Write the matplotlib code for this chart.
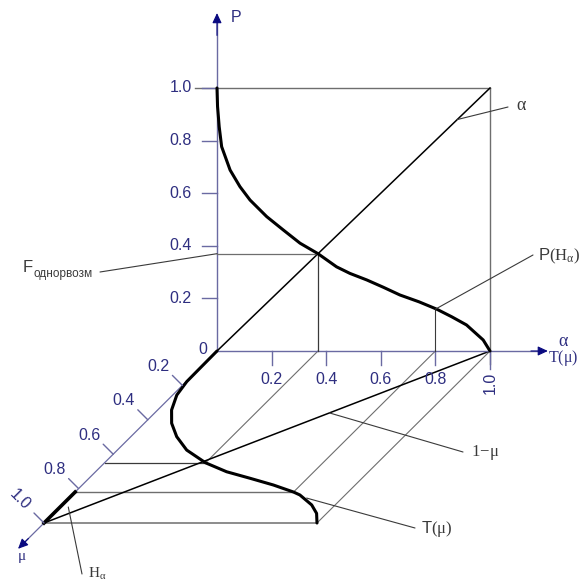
import numpy as np
import matplotlib.pyplot as plt
from matplotlib.transforms import Affine2D, offset_copy

plt.rcParams['font.family'] = ['Liberation Sans', 'DejaVu Sans']
# upright serif for the greek symbols and formula labels
plt.rcParams['mathtext.fontset'] = 'custom'
plt.rcParams['mathtext.rm'] = 'Liberation Serif'
plt.rcParams['mathtext.it'] = 'Liberation Serif'
plt.rcParams['mathtext.bf'] = 'Liberation Serif:bold'

# P(alpha) curve in the vertical (alpha, P) plane
p_alpha = [0.0, 0.002, 0.008, 0.017, 0.048, 0.084, 0.121, 0.182, 0.243, 0.304, 0.37,
           0.438, 0.487, 0.549, 0.610, 0.670, 0.740, 0.805, 0.860, 0.914, 0.975, 1.0]
p_value = [1.0, 0.93, 0.853, 0.777, 0.688, 0.625, 0.574, 0.511, 0.46, 0.41, 0.37,
           0.32, 0.295, 0.270, 0.242, 0.213, 0.187, 0.159, 0.13, 0.099, 0.042, 0.0]

# T(mu) curve in the floor (alpha, mu) plane
t_mu = [0.0, 0.1, 0.178, 0.256, 0.343, 0.42, 0.498, 0.576, 0.65, 0.702, 0.74,
        0.779, 0.82, 0.837, 0.895, 0.944, 1.0]
t_value = [0.0, 0.001, 0.002, 0.015, 0.051, 0.10, 0.168, 0.254, 0.37, 0.48, 0.59,
           0.70, 0.80, 0.834, 0.914, 0.963, 1.0]

ticks = [0.2, 0.4, 0.6, 0.8]
tick_labels = ['0.2', '0.4', '0.6', '0.8']

f_level = 0.37     # P(alpha) = alpha
mu_f = 0.65        # T(mu) at f_level
alpha_h = 0.8      # H_alpha level
mu_h = 0.82
p_h = 0.159

AXIS = '#6a6aa2'
NAVY = '#2e2e80'
HEAD = '#0a0a80'
GRAY = '#6e6e6e'
DARK = '#3a3a3a'

fig = plt.figure(figsize=(5.8, 5.85), dpi=100)
ax = fig.add_axes([0, 0, 1, 1])
ax.set_xlim(0, 580)
ax.set_ylim(585, 0)
ax.axis('off')

# oblique projection: wall plane (alpha, P) and floor plane (alpha, mu)
wall = Affine2D().scale(273, -263).translate(217, 351) + ax.transData
floor = Affine2D(np.array([[273., -173., 217.],
                           [0., 172., 351.],
                           [0., 0., 1.]])) + ax.transData


def arrow(tip, tail, trans):
    ax.annotate('', xy=tip, xytext=tail, xycoords=trans, textcoords=trans,
                arrowprops=dict(arrowstyle='-|>,head_length=0.6,head_width=0.28',
                                color=HEAD, lw=0.8, shrinkA=0, shrinkB=0))


def leader(start, trans, end):
    ax.annotate('', xy=start, xycoords=trans, xytext=end, textcoords='data',
                arrowprops=dict(arrowstyle='-', color=DARK, lw=0.8,
                                shrinkA=0, shrinkB=0))


# --- frame of the wall plane
ax.plot([-0.08, 1], [1, 1], color=GRAY, lw=1.0, transform=wall)
ax.plot([1, 1], [-0.05, 1], color=GRAY, lw=1.0, transform=wall)

# --- floor plane frame and construction lines
ax.plot([1, 1], [0, 1], color=GRAY, lw=0.8, transform=floor)
ax.plot([0, 1], [1, 1], color=GRAY, lw=1.1, transform=floor)
ax.plot([f_level, f_level], [0, mu_f], color=GRAY, lw=0.8, transform=floor)
ax.plot([alpha_h, alpha_h], [0, mu_h], color=GRAY, lw=0.8, transform=floor)
ax.plot([0, f_level], [mu_f, mu_f], color=DARK, lw=0.9, transform=floor)
ax.plot([0, alpha_h], [mu_h, mu_h], color=GRAY, lw=1.0, transform=floor)
ax.plot([1, 0], [0, 1], color='black', lw=1.1, transform=floor)

# --- axes
ax.plot([0, 0], [0, 1.25], color=AXIS, lw=1.0, transform=wall)
arrow((0, 1.285), (0, 1.2), wall)
ax.plot([0, 1.18], [0, 0], color=AXIS, lw=1.0, transform=wall)
arrow((1.212, 0), (1.15, 0), wall)
ax.plot([0, 0], [0, 1.12], color=AXIS, lw=0.9, transform=floor)
arrow((0, 1.15), (0, 1.09), floor)

# P axis ticks and labels
for v, lab in zip(ticks + [1.0], tick_labels + ['1.0']):
    ax.plot([-0.055, 0], [v, v], color=AXIS, lw=1.0, transform=wall)
    ax.text(0, v, lab, color=NAVY, fontsize=11.5, ha='right', va='center',
            transform=offset_copy(wall, fig, x=-25, y=0, units='dots'))
ax.text(0, 0, '0', color=NAVY, fontsize=11.5, ha='center', va='center',
        transform=offset_copy(wall, fig, x=-14, y=1, units='dots'))

# alpha axis ticks and labels
for v, lab in zip(ticks, tick_labels):
    ax.plot([v, v], [0, -0.053], color=AXIS, lw=1.0, transform=wall)
    ax.text(v, 0, lab, color=NAVY, fontsize=11.5, ha='center', va='center',
            transform=offset_copy(wall, fig, x=0, y=-29, units='dots'))
ax.plot([1, 1], [0, -0.07], color=AXIS, lw=1.0, transform=wall)
ax.text(1, 0, '1.0', color=NAVY, fontsize=11.5, ha='center', va='center', rotation=90,
        transform=offset_copy(wall, fig, x=0, y=-32, units='dots'))

# mu axis ticks (perpendicular to the axis) and labels
for v, lab in zip(ticks + [1.0], tick_labels + ['1.0']):
    ax.annotate('', xy=(0, v), xycoords=floor, xytext=(-10, 10),
                textcoords='offset pixels',
                arrowprops=dict(arrowstyle='-', color=AXIS, lw=1.0,
                                shrinkA=0, shrinkB=0))
    ax.text(0, v, lab, color=NAVY, fontsize=11.5, ha='center', va='center',
            rotation=-45 if v == 1.0 else 0,
            transform=offset_copy(floor, fig, x=-24, y=19 if v < 1 else 23, units='dots'))

# axis names
ax.text(236, 18, 'P', color=NAVY, fontsize=11.5, ha='center', va='center')
ax.text(563, 341, r'$\alpha$', color=NAVY, fontsize=13, ha='center', va='center')
ax.text(563, 358, r'$\mathrm{T}(\mu)$', color=NAVY, fontsize=11.5, ha='center', va='center')
ax.text(22, 558, r'$\mu$', color=NAVY, fontsize=11, ha='center', va='center')

# --- wall construction lines
ax.plot([0, 1], [0, 1], color='black', lw=1.1, transform=wall)
ax.plot([0, f_level], [f_level, f_level], color=GRAY, lw=0.9, transform=wall)
ax.plot([f_level, f_level], [0, f_level], color=DARK, lw=0.9, transform=wall)
ax.plot([alpha_h, alpha_h], [0, p_h], color=DARK, lw=0.8, transform=wall)

# --- curves
ax.plot(p_alpha, p_value, color='black', lw=2.2, solid_capstyle='round',
        solid_joinstyle='round', transform=wall)
ax.plot(t_value, t_mu, color='black', lw=2.2, solid_capstyle='round',
        solid_joinstyle='round', transform=floor)
ax.plot([0, 0], [mu_h, 1.0], color='black', lw=2.6, transform=floor)

# --- leaders and labels
leader((0.88, 0.88), wall, (508, 107))
ax.text(516, 106, r'$\alpha$', color=DARK, fontsize=13, ha='left', va='center')

leader((0, f_level), wall, (100, 272))
ax.text(23, 267, 'F', color=DARK, fontsize=12, ha='left', va='center')
ax.text(34, 274, 'однорвозм', color=DARK, fontsize=8.5, ha='left', va='center')

leader((alpha_h, p_h), wall, (533, 255))
ax.text(538, 256, r'P$(\mathrm{H}_\alpha)$', color=DARK, fontsize=12, ha='left', va='center')

leader((0.64, 0.36), floor, (463, 452))
ax.text(471, 452, r'$1\!-\!\mu$', color=DARK, fontsize=12, ha='left', va='center')

leader((0.87, 0.855), floor, (415, 528))
ax.text(421, 529, r'T$(\mu)$', color=DARK, fontsize=12, ha='left', va='center')

leader((0.03, 0.907), floor, (82, 574))
ax.text(88, 574, r'$\mathrm{H}_\alpha$', color=DARK, fontsize=11, ha='left', va='center')

fig.savefig('out.png', dpi=100)
